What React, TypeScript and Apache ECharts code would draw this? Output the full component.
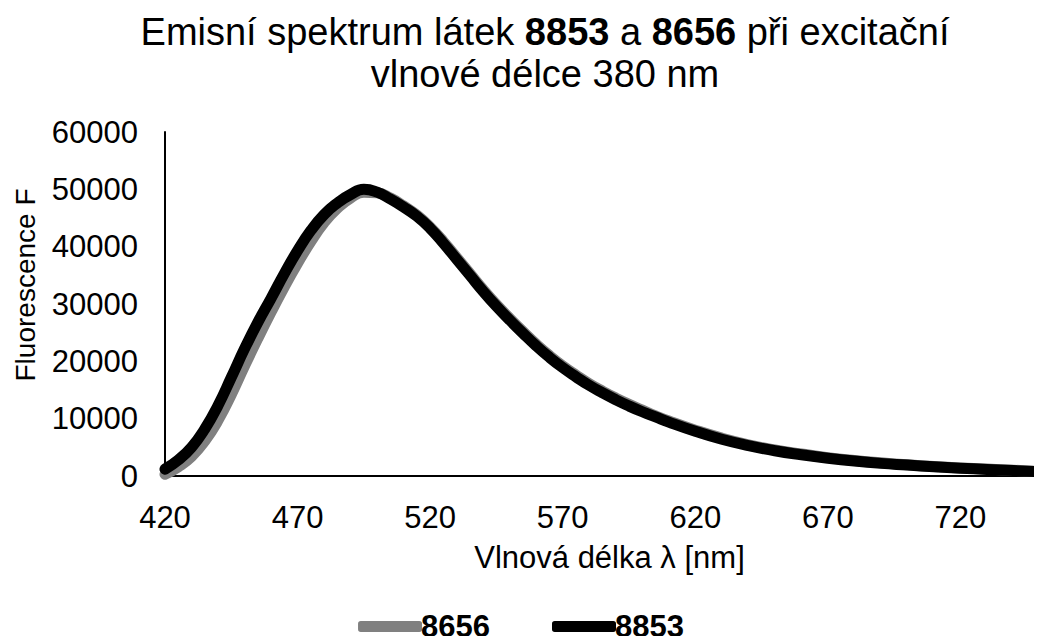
import React, { useEffect, useRef } from "react";
import * as echarts from "echarts";

const wavelengths = [420, 425, 430, 435, 440, 445, 450, 455, 460, 465, 470, 475, 480, 485, 490, 495, 500, 505, 510, 515, 520, 525, 530, 535, 540, 545, 550, 555, 560, 565, 570, 575, 580, 585, 590, 595, 600, 605, 610, 620, 630, 640, 650, 660, 670, 680, 690, 700, 710, 720, 730, 740, 750];

const s8853 = [1200, 2800, 5000, 8200, 12300, 17200, 22200, 26800, 31000, 35300, 39300, 42800, 45600, 47600, 49100, 50000, 49500, 48300, 46900, 45300, 43200, 40600, 37800, 35000, 32200, 29600, 27200, 24900, 22700, 20700, 18900, 17300, 15800, 14500, 13300, 12200, 11200, 10300, 9400, 7800, 6400, 5300, 4400, 3700, 3100, 2600, 2200, 1900, 1600, 1350, 1150, 950, 750];

const s8656 = [300, 1600, 3400, 6100, 9700, 14200, 19200, 24000, 28600, 33000, 37100, 40900, 44200, 46700, 48500, 49500, 49400, 48500, 47100, 45500, 43400, 40900, 38100, 35300, 32500, 29900, 27500, 25200, 23000, 21000, 19200, 17600, 16100, 14800, 13600, 12500, 11500, 10500, 9600, 8000, 6600, 5450, 4550, 3850, 3200, 2700, 2300, 1950, 1650, 1400, 1200, 1000, 800];

const yTicks = { min: 0, max: 60000, interval: 10000 };
const xTicks = { min: 420, max: 750, interval: 50 };

const FONT = "Liberation Sans, Arial, sans-serif";

export default function App() {
  const ref = useRef<HTMLDivElement>(null);
  useEffect(() => {
    if (!ref.current) return;
    const chart = echarts.init(ref.current, undefined, { renderer: "svg" });
    const d53 = wavelengths.map((w, i) => [w, s8853[i]]);
    const d56 = wavelengths.map((w, i) => [w, s8656[i]]);
    chart.setOption({
      animation: false,
      backgroundColor: "#ffffff",
      textStyle: { fontFamily: FONT, color: "#000" },
      title: {
        text: "{n|Emisní spektrum látek }{b|8853}{n| a }{b|8656}{n| při excitační}\n{n|vlnové délce 380 nm}",
        left: 540,
        textAlign: "center",
        top: 6,
        textStyle: {
          fontWeight: "normal",
          rich: {
            n: { fontFamily: FONT, fontSize: 38, fontWeight: "normal", color: "#000", lineHeight: 42 },
            b: { fontFamily: FONT, fontSize: 38, fontWeight: "bold", color: "#000", lineHeight: 42 },
          },
        },
      },
      legend: {
        bottom: -3,
        left: "center",
        itemWidth: 64,
        itemHeight: 11,
        itemGap: 62,
        icon: "roundRect",
        textStyle: { fontFamily: FONT, fontSize: 31, fontWeight: "bold", color: "#000", padding: [0, 0, 0, -6] },
        data: ["8656", "8853"],
      },
      grid: { left: 165, right: 2, top: 132, bottom: 168, containLabel: false, outerBoundsMode: "none" },
      xAxis: {
        type: "value",
        min: xTicks.min,
        max: xTicks.max,
        interval: xTicks.interval,
        name: "Vlnová délka λ [nm]",
        nameLocation: "middle",
        nameGap: 66,
        nameTextStyle: { fontFamily: FONT, fontSize: 31, color: "#000", padding: [0, 0, 0, 14] },
        axisLine: { lineStyle: { color: "#000", width: 2 } },
        axisTick: { show: false },
        splitLine: { show: false },
        axisLabel: {
          fontFamily: FONT,
          fontSize: 31,
          color: "#000",
          margin: 26,
          formatter: (v: number) => (v >= 750 ? "" : String(v)),
        },
      },
      yAxis: {
        type: "value",
        min: yTicks.min,
        max: yTicks.max,
        interval: yTicks.interval,
        name: "Fluorescence F",
        nameLocation: "middle",
        nameGap: 126,
        nameTextStyle: { fontFamily: FONT, fontSize: 28, color: "#000", padding: [0, 0, 0, 38] },
        axisLine: { show: true, lineStyle: { color: "#000", width: 2 } },
        axisTick: { show: false },
        splitLine: { show: false },
        axisLabel: { fontFamily: FONT, fontSize: 31, color: "#000", margin: 27, formatter: (v: number) => String(v) },
      },
      series: [
        {
          name: "8656",
          type: "line",
          data: d56,
          smooth: true,
          showSymbol: false,
          lineStyle: { color: "#808080", width: 11, cap: "round", join: "round" },
          itemStyle: { color: "#808080" },
          z: 2,
        },
        {
          name: "8853",
          type: "line",
          data: d53,
          smooth: true,
          showSymbol: false,
          lineStyle: { color: "#000000", width: 11, cap: "round", join: "round" },
          itemStyle: { color: "#000000" },
          z: 3,
        },
      ],
    });
    return () => chart.dispose();
  }, []);
  return <div ref={ref} style={{ width: 1042, height: 644, margin: -8 }} />;
}
